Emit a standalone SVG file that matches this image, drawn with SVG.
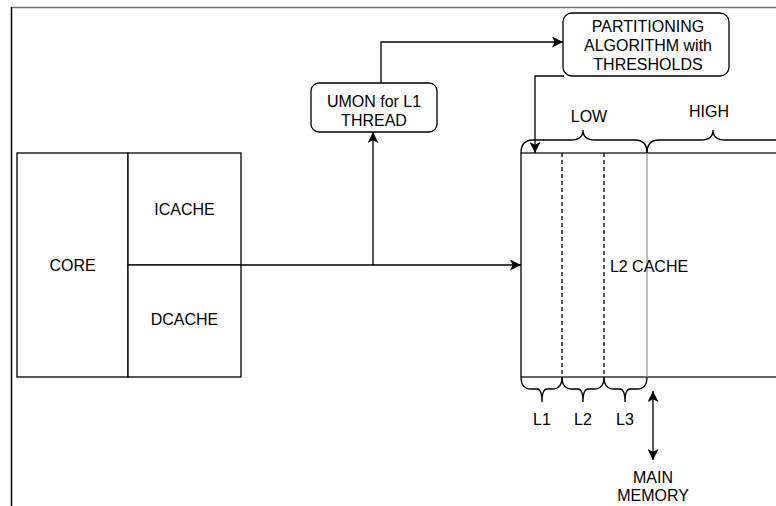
<svg xmlns="http://www.w3.org/2000/svg" width="776" height="506" viewBox="0 0 776 506">
<defs>
<marker id="ah" viewBox="0 0 10 10" refX="10" refY="5" markerWidth="11" markerHeight="11" markerUnits="userSpaceOnUse" orient="auto-start-reverse">
<path d="M0,0 L10,5 L0,10 L2.5,5 Z" fill="#000"/>
</marker>
</defs>
<style>
text{font-family:"Liberation Sans",Arial,sans-serif;font-size:16px;fill:#000;text-anchor:middle}
.b{fill:#fff;stroke:#000;stroke-width:1.3}
.l{fill:none;stroke:#000;stroke-width:1.3}
.d{fill:none;stroke:#000;stroke-width:1.3;stroke-dasharray:4,3}
</style>
<rect width="776" height="506" fill="#fff"/>
<g id="frame">
<line x1="11.5" y1="7.5" x2="776" y2="7.5" stroke="#777" stroke-width="1.5"/>
<line x1="11.5" y1="7" x2="11.5" y2="506" stroke="#000" stroke-width="1.5"/>
</g>
<g id="core">
<rect class="b" x="17" y="153" width="111" height="224"/>
<text x="72.5" y="271">CORE</text>
</g>
<g id="icache">
<rect class="b" x="128" y="153" width="113" height="112"/>
<text x="184.5" y="215">ICACHE</text>
</g>
<g id="dcache">
<rect class="b" x="128" y="265" width="113" height="112"/>
<text x="184.5" y="325">DCACHE</text>
</g>
<g id="umon">
<rect class="b" x="311" y="83" width="126" height="49" rx="8"/>
<text x="374" y="107">UMON for L1</text>
<text x="374" y="126">THREAD</text>
</g>
<g id="partitioning">
<rect class="b" x="563" y="13" width="166" height="63" rx="9"/>
<text x="648" y="32">PARTITIONING</text>
<text x="648" y="51">ALGORITHM with</text>
<text x="648" y="70">THRESHOLDS</text>
</g>
<g id="l2cache">
<path d="M521,153 L790,153 M521,377 L790,377" stroke="#333" stroke-width="1.6" fill="none"/>
<line class="l" x1="521" y1="153" x2="521" y2="377"/>
<line class="d" x1="562" y1="153" x2="562" y2="377"/>
<line class="d" x1="604" y1="153" x2="604" y2="377"/>
<line x1="647" y1="153" x2="647" y2="377" stroke="#999" stroke-width="1.3"/>
<text x="649" y="272">L2 CACHE</text>
</g>
<g id="braces">
<path class="l" d="M521,153 Q521,140 533,140 L571,140 Q583,140 583,130 Q583,140 595,140 L635,140 Q647,140 647,153"/>
<path class="l" d="M647,153 Q647,140 659,140 L701,140 Q713,140 713,130 Q713,140 725,140 L790,140"/>
<path class="l" d="M521,377 Q521,389 531,389 L537,389 Q542,389 542,402 Q542,389 547,389 L552,389 Q562,389 562,377"/>
<path class="l" d="M562,377 Q562,389 572,389 L578,389 Q583,389 583,402 Q583,389 588,389 L594,389 Q604,389 604,377"/>
<path class="l" d="M604,377 Q604,389 614,389 L620,389 Q625,389 625,402 Q625,389 630,389 L637,389 Q647,389 647,377"/>
<text x="589" y="122">LOW</text>
<text x="709" y="117">HIGH</text>
<text x="542" y="425">L1</text>
<text x="583" y="425">L2</text>
<text x="625" y="425">L3</text>
</g>
<g id="mainmemory">
<text x="653" y="483">MAIN</text>
<text x="653" y="501">MEMORY</text>
</g>
<g id="connectors">
<path class="l" d="M241,265 L521,265" marker-end="url(#ah)"/>
<path class="l" d="M373,265 L373,132" marker-end="url(#ah)"/>
<path class="l" d="M381,83 L381,42 L563,42" marker-end="url(#ah)"/>
<path class="l" d="M564,76 L535,76 L535,153" marker-end="url(#ah)"/>
<path class="l" d="M653,391 L653,460" marker-start="url(#ah)" marker-end="url(#ah)"/>
</g>
</svg>
